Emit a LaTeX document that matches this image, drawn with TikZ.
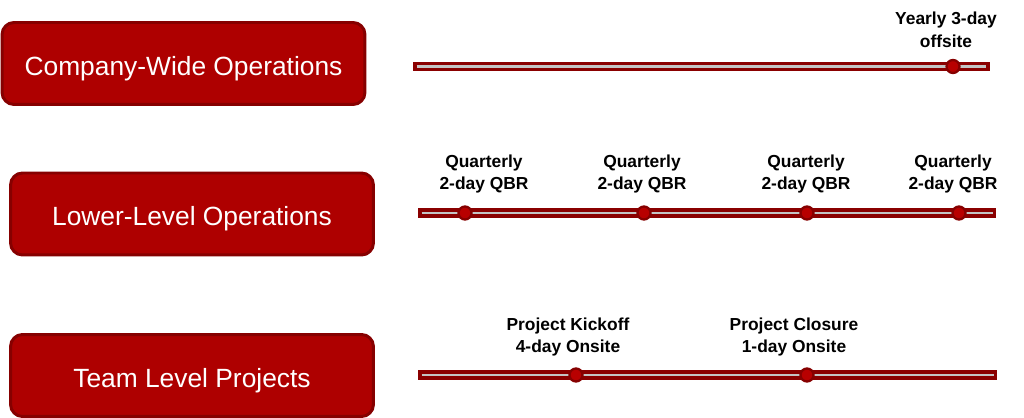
\documentclass[tikz,border=0pt]{standalone}
\usepackage{fontspec}
\setmainfont{Liberation Sans}
\usetikzlibrary{calc}

\definecolor{boxred}{HTML}{AE0000}
\definecolor{edgered}{HTML}{860000}
\definecolor{trackred}{HTML}{8A0000}
\definecolor{dotred}{HTML}{B80000}
\definecolor{groove}{HTML}{C4C4C4}

\tikzset{
  opsbox/.style={draw=edgered,line width=1.7pt,fill=boxred,rounded corners=0.24cm,
    minimum width=7.26cm,minimum height=1.64cm,text=white,text height=13.5pt,text depth=0pt,
    font=\fontsize{15}{18}\selectfont},
  track/.style={draw=trackred,line width=5.4pt},
  groovy/.style={draw=groove,line width=1.2pt,shorten <=2pt,shorten >=2pt},
  milestone/.style={circle,fill=dotred,draw=edgered,line width=1.3pt,inner sep=0pt,minimum size=0.26cm},
  tag/.style={align=center,font=\bfseries\fontsize{9.9}{13}\selectfont}
}

\begin{document}
\begin{tikzpicture}[x=0.02cm,y=-0.02cm]
      \useasboundingbox (0,0) rectangle (1024,418);
      % row labels
      \node[opsbox] (company) at (183.5,63.5) {Company-Wide Operations};
      \node[opsbox] (lower) at (192,214) {Lower-Level Operations};
      \node[opsbox] (team) at (192,375.5) {Team Level Projects};

      % tracks
      \coordinate (ca) at (413,66.5);
      \coordinate (cb) at (990,66.5);
      \coordinate (la) at (418,213);
      \coordinate (lb) at (996,213);
      \coordinate (ta) at (418,375);
      \coordinate (tb) at (997,375);
      \foreach \a/\b in {ca/cb,la/lb,ta/tb} {
        \draw[track] (\a) -- (\b);
        \draw[groovy] (\a) -- (\b);
      }

      % milestones
      \node[milestone] (yearly) at (953,66.5) {};
      \node[milestone] (q1) at (465,213) {};
      \node[milestone] (q2) at (644,213) {};
      \node[milestone] (q3) at (807,213) {};
      \node[milestone] (q4) at (959,213) {};
      \node[milestone] (kickoff) at (576,375) {};
      \node[milestone] (closure) at (807,375) {};

      % texts
      \node[tag] (yearlytag) at (946,29.5) {Yearly 3-day\\offsite};
      \node[tag] (q1tag) at (484,174) {Quarterly\\2-day QBR};
      \node[tag] (q2tag) at (642,174) {Quarterly\\2-day QBR};
      \node[tag] (q3tag) at (806,174) {Quarterly\\2-day QBR};
      \node[tag] (q4tag) at (953,174) {Quarterly\\2-day QBR};
      \node[tag] (kickofftag) at (568,337) {Project Kickoff\\4-day Onsite};
      \node[tag] (closuretag) at (794,337) {Project Closure\\1-day Onsite};
\end{tikzpicture}
\end{document}
